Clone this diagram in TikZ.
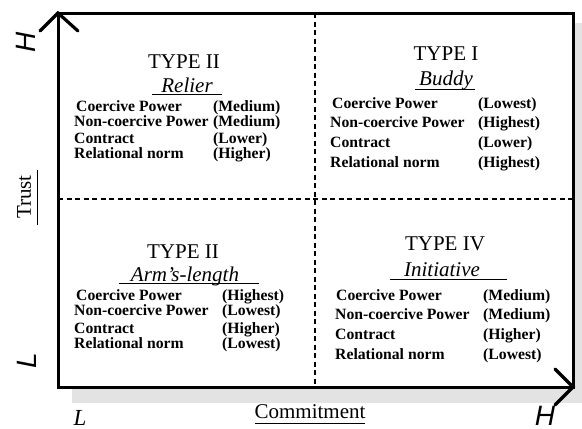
\documentclass[tikz,border=0pt]{standalone}
\usepackage{fontspec}
\setmainfont{Liberation Serif}[UprightFont=*, BoldFont=* Bold, ItalicFont=* Italic, BoldItalicFont=* Bold Italic]
\newfontfamily\axisfont{Liberation Sans}[UprightFont=*, ItalicFont=* Italic]
\begin{document}
\begin{tikzpicture}[x=1pt,y=-1pt,
  frame/.style={line width=3pt},
  armline/.style={line width=3.2pt, line cap=round},
  divider/.style={line width=1.3pt, dash pattern=on 5pt off 3.5pt},
  uline/.style={line width=1pt},
  lbl/.style={anchor=base west, inner sep=0pt, font=\fontsize{15.7}{16}\selectfont\bfseries},
  ttl/.style={anchor=base, inner sep=0pt, font=\fontsize{21}{21}\selectfont},
  sub/.style={anchor=base, inner sep=0pt, font=\fontsize{21}{21}\selectfont\itshape},
  axislbl/.style={anchor=base, inner sep=0pt, text depth=0pt, font=\fontsize{28}{28}\selectfont\axisfont\itshape},
  axisname/.style={inner sep=0pt, font=\fontsize{21}{21}\selectfont}]
\useasboundingbox (0,0) rectangle (582,429);
% shadow and panel
\fill[black!11] (72,23) rectangle (582,403);
\fill[white] (58,13) rectangle (573,387);
% frame corners
\coordinate (tl) at (58,13);
\coordinate (tr) at (573,13);
\coordinate (br) at (573,387);
\coordinate (bl) at (58,387);
% dividers
\coordinate (vt) at (315,13);
\coordinate (vb) at (315,387);
\coordinate (hl) at (58,199);
\coordinate (hr) at (573,199);
\draw[divider] (vt) -- (vb);
\draw[divider] (hl) -- (hr);
\draw[frame] (tl) -- (tr) -- (br) -- (bl) -- cycle;
% arrow heads
\coordinate (ua) at (40,31);
\coordinate (ub) at (78,31);
\coordinate (ra) at (555,369);
\coordinate (rb) at (555,405);
\draw[armline] (ua) -- (tl) -- (ub);
\draw[armline] (ra) -- (br) -- (rb);
% axis labels
\node[axislbl, rotate=90] (yH) at (35,42) {H};
\node[axislbl, rotate=90] (yL) at (37,361) {L};
\node[axislbl, font=\fontsize{23}{23}\selectfont\itshape] (xL) at (80,425) {L};
\node[axislbl] (xH) at (545,425) {H};
\node[axisname, rotate=90] (trust) at (24,197) {Trust};
\coordinate (tu1) at (37,170);
\coordinate (tu2) at (37,225);
\draw[uline] (tu1) -- (tu2);
\node[axisname, anchor=base] (commit) at (310,418) {Commitment};
\coordinate (cu1) at (255,423);
\coordinate (cu2) at (365,423);
\draw[uline] (cu1) -- (cu2);
% Top-left quadrant
\node[ttl] (q2t) at (184,68) {TYPE II};
\node[sub] (q2s) at (187,92) {Relier};
\coordinate (q2u1) at (152,94);
\coordinate (q2u2) at (222,94);
\draw[uline] (q2u1) -- (q2u2);
\node[lbl] (q2a) at (76,111) {Coercive Power};
\node[lbl] (q2b) at (74,126) {Non-coercive Power};
\node[lbl] (q2c) at (74,143) {Contract};
\node[lbl] (q2d) at (74,158) {Relational norm};
\node[lbl] (q2av) at (213,111) {(Medium)};
\node[lbl] (q2bv) at (213,126) {(Medium)};
\node[lbl] (q2cv) at (213,143) {(Lower)};
\node[lbl] (q2dv) at (213,158) {(Higher)};
% Top-right quadrant
\node[ttl] (q1t) at (446,60) {TYPE I};
\node[sub] (q1s) at (446,85) {Buddy};
\coordinate (q1u1) at (415,89);
\coordinate (q1u2) at (475,89);
\draw[uline] (q1u1) -- (q1u2);
\node[lbl] (q1a) at (332,108) {Coercive Power};
\node[lbl] (q1b) at (330,127) {Non-coercive Power};
\node[lbl] (q1c) at (330,147) {Contract};
\node[lbl] (q1d) at (330,167) {Relational norm};
\node[lbl] (q1av) at (478,108) {(Lowest)};
\node[lbl] (q1bv) at (478,127) {(Highest)};
\node[lbl] (q1cv) at (478,147) {(Lower)};
\node[lbl] (q1dv) at (478,167) {(Highest)};
% Bottom-left quadrant
\node[ttl] (q3t) at (183,258) {TYPE II};
\node[sub] (q3s) at (185,281) {Arm's-length};
\coordinate (q3u1) at (119,283);
\coordinate (q3u2) at (259,283);
\draw[uline] (q3u1) -- (q3u2);
\node[lbl] (q3a) at (76,300) {Coercive Power};
\node[lbl] (q3b) at (74,315) {Non-coercive Power};
\node[lbl] (q3c) at (74,333) {Contract};
\node[lbl] (q3d) at (74,348) {Relational norm};
\node[lbl] (q3av) at (222,300) {(Highest)};
\node[lbl] (q3bv) at (222,315) {(Lowest)};
\node[lbl] (q3cv) at (222,333) {(Higher)};
\node[lbl] (q3dv) at (222,348) {(Lowest)};
% Bottom-right quadrant
\node[ttl] (q4t) at (445,250) {TYPE IV};
\node[sub] (q4s) at (442,276) {Initiative};
\coordinate (q4u1) at (390,279);
\coordinate (q4u2) at (507,279);
\draw[uline] (q4u1) -- (q4u2);
\node[lbl] (q4a) at (336,300) {Coercive Power};
\node[lbl] (q4b) at (335,319) {Non-coercive Power};
\node[lbl] (q4c) at (335,339) {Contract};
\node[lbl] (q4d) at (335,359) {Relational norm};
\node[lbl] (q4av) at (483,300) {(Medium)};
\node[lbl] (q4bv) at (483,319) {(Medium)};
\node[lbl] (q4cv) at (483,339) {(Higher)};
\node[lbl] (q4dv) at (483,359) {(Lowest)};
\end{tikzpicture}
\end{document}
